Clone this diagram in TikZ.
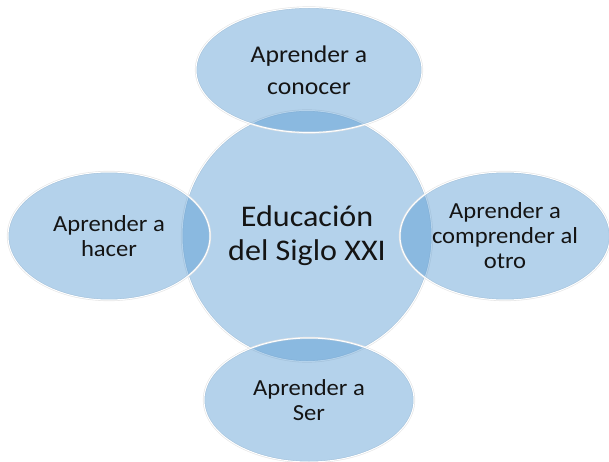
\documentclass[tikz,border=0pt]{standalone}
\usepackage{fontspec}
\setmainfont[FakeStretch=1.07]{Carlito}
\usepackage{tikz}
\usetikzlibrary{shapes.geometric}
\definecolor{bubblefill}{RGB}{85,153,210}
\definecolor{bubbletext}{RGB}{20,20,20}
\tikzset{
  bubble/.style={ellipse, inner sep=0pt, align=center,
    fill=bubblefill, fill opacity=0.44, text opacity=1, text=bubbletext,
    draw=white, line width=1pt,
    preaction={draw=black!10, line width=2.2pt}},
  smalltext/.style={font=\fontsize{23}{25}\selectfont},
}

\begin{document}
\begin{tikzpicture}[x=1pt, y=-1pt]
    \useasboundingbox (0,0) rectangle (609,462);

    % centre first, the four around it on top
    \node[bubble, minimum width=250pt, minimum height=251pt,
      font=\fontsize{30}{34}\selectfont] (siglo) at (307,236)
      {Educación\\del Siglo XXI};

    \node[bubble, smalltext, minimum width=226pt, minimum height=125pt,
      font=\fontsize{24}{32}\selectfont] (conocer) at (309,70)
      {Aprender a\\conocer};
    \node[bubble, smalltext, minimum width=202pt, minimum height=128pt] (hacer) at (109,236)
      {Aprender a\\hacer};
    \node[bubble, smalltext, minimum width=210pt, minimum height=128pt] (otro) at (505,236)
      {Aprender a\\comprender al\\otro};
    \node[bubble, smalltext, minimum width=210pt, minimum height=124pt] (ser) at (309,400)
      {Aprender a\\Ser};
\end{tikzpicture}
\end{document}
